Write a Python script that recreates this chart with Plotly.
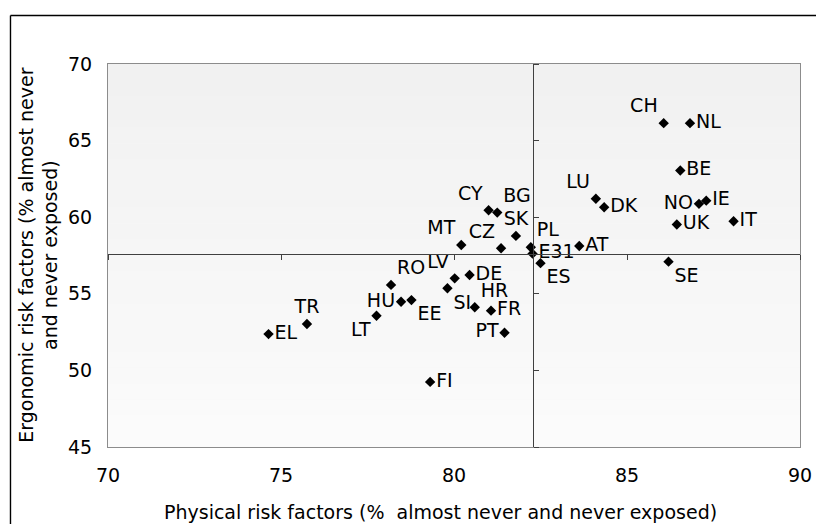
import plotly.graph_objects as go

# ---------------- data ----------------
countries = ["CH", "NL", "BE", "LU", "DK", "NO", "IE", "UK", "IT", "AT", "SE",
             "ES", "E31", "PL", "MT", "CZ", "SK", "CY", "BG", "LV", "DE", "RO",
             "SI", "HU", "EE", "HR", "FR", "LT", "TR", "EL", "PT", "FI"]
physical = [86.06, 86.82, 86.54, 84.10, 84.34, 87.08, 87.29, 86.44, 88.08, 83.62, 86.20,
            82.50, 82.27, 82.22, 80.21, 81.36, 81.79, 81.00, 81.25, 80.02, 80.45, 78.18,
            79.81, 78.47, 78.77, 80.60, 81.07, 77.76, 75.75, 74.64, 81.46, 79.31]
ergonomic = [66.14, 66.14, 63.05, 61.20, 60.65, 60.87, 61.08, 59.52, 59.74, 58.12, 57.10,
             57.00, 57.62, 58.04, 58.19, 57.97, 58.78, 60.45, 60.30, 56.01, 56.23, 55.58,
             55.36, 54.48, 54.59, 54.12, 53.90, 53.57, 53.03, 52.37, 52.46, 49.25]
label_pos = ["top left", "middle right", "middle right", "top left", "middle right",
             "middle left", "middle right", "middle right", "middle right", "middle right",
             "bottom right", "bottom right", "middle right", "top right", "top left",
             "top left", "top center", "top left", "top right", "top left", "middle right",
             "top right", "bottom right", "middle left", "bottom right", "top right",
             "middle right", "bottom left", "top center", "middle right", "middle left",
             "middle right"]

x_ticks = [70, 75, 80, 85, 90]
y_ticks = [45, 50, 55, 60, 65, 70]
x_range = [70, 90]
y_range = [45, 70]
cross_x = physical[countries.index("E31")]   # average used as crossing axis
cross_y = ergonomic[countries.index("E31")]

x_title = "Physical risk factors (%  almost never and never exposed)"
y_title = "Ergonomic risk factors (% almost never<br>and never exposed)"

FONT = "DejaVu Sans"
FS = 19

# page offset of the figure inside the browser page (default body margin)
OFF = 8

fig = go.Figure()

fig.add_trace(go.Scatter(
    x=physical, y=ergonomic, mode="markers+text", text=countries,
    textposition=label_pos,
    marker=dict(symbol="diamond", size=8, color="black"),
    textfont=dict(family=FONT, size=FS, color="#000000"),
    cliponaxis=False, showlegend=False, hoverinfo="skip"))

# invisible trace to hold the crossing axes
fig.add_trace(go.Scatter(x=[cross_x], y=[cross_y], xaxis="x2", yaxis="y2",
                         mode="markers", marker=dict(opacity=0), showlegend=False,
                         hoverinfo="skip"))

# background gradient bands
shapes = []
n = 24
for i in range(n):
    t = i / (n - 1)
    c = int(round(0xf1 + (0xfb - 0xf1) * t))
    col = f"rgb({c},{c},{c})"
    shapes.append(dict(type="rect", xref="x domain", yref="y domain",
                       x0=0, x1=1, y0=1 - (i + 1) / n, y1=1 - i / n,
                       fillcolor=col, line=dict(width=0), layer="below"))

# geometry (screen coordinates of the target, minus page offset)
W, H = 824 - OFF, 524 - OFF
ml = 108 - OFF
mt = 64 - OFF
mr = W - (807 - OFF)
mb = H - (447 - OFF)
pw, ph = W - ml - mr, H - mt - mb


def px_x(sx):
    return (sx - OFF - ml) / pw


def px_y(sy):
    return (mt + ph - (sy - OFF)) / ph


# outer chart frame
fx = px_x(9.5)
fy = px_y(15.5)
shapes.append(dict(type="line", xref="paper", yref="paper", x0=fx, x1=fx,
                   y0=-0.5, y1=fy, line=dict(color="black", width=1.4)))
shapes.append(dict(type="line", xref="paper", yref="paper", x0=fx, x1=1.2,
                   y0=fy, y1=fy, line=dict(color="black", width=1.4)))

fig.update_layout(
    width=W, height=H,
    margin=dict(l=ml, r=mr, t=mt, b=mb),
    paper_bgcolor="white", plot_bgcolor="#f6f6f6",
    font=dict(family=FONT, size=FS, color="#000000"),
    shapes=shapes,
    xaxis=dict(range=x_range, tickvals=x_ticks, showline=True, mirror=True,
               linecolor="#8c8c8c", linewidth=1, showgrid=False, zeroline=False,
               ticks="", ticklabelstandoff=11, tickfont=dict(size=FS)),
    yaxis=dict(range=y_range, tickvals=y_ticks, showline=True, mirror=True,
               linecolor="#8c8c8c", linewidth=1, showgrid=False, zeroline=False,
               ticks="", ticklabelstandoff=11, tickfont=dict(size=FS)),
    xaxis2=dict(range=x_range, tickvals=x_ticks, overlaying="x", anchor="free",
                position=(cross_y - y_range[0]) / (y_range[1] - y_range[0]),
                side="bottom", showline=True, linecolor="#404040", linewidth=1,
                ticks="outside", ticklen=5, tickcolor="#404040",
                showticklabels=False, showgrid=False, zeroline=False),
    yaxis2=dict(range=y_range, tickvals=y_ticks, overlaying="y", anchor="free",
                position=(cross_x - x_range[0]) / (x_range[1] - x_range[0]),
                side="right", showline=True, linecolor="#404040", linewidth=1,
                ticks="outside", ticklen=5, tickcolor="#404040",
                showticklabels=False, showgrid=False, zeroline=False),
    annotations=[
        dict(text=x_title, xref="paper", yref="paper",
             x=px_x(444), y=px_y(511.5),
             xanchor="center", yanchor="middle", showarrow=False,
             font=dict(family=FONT, size=FS)),
        dict(text=y_title, xref="paper", yref="paper",
             x=px_x(37), y=px_y(255), textangle=-90,
             xanchor="center", yanchor="middle", showarrow=False,
             font=dict(family=FONT, size=FS)),
    ],
)

fig.write_html("out.html")
